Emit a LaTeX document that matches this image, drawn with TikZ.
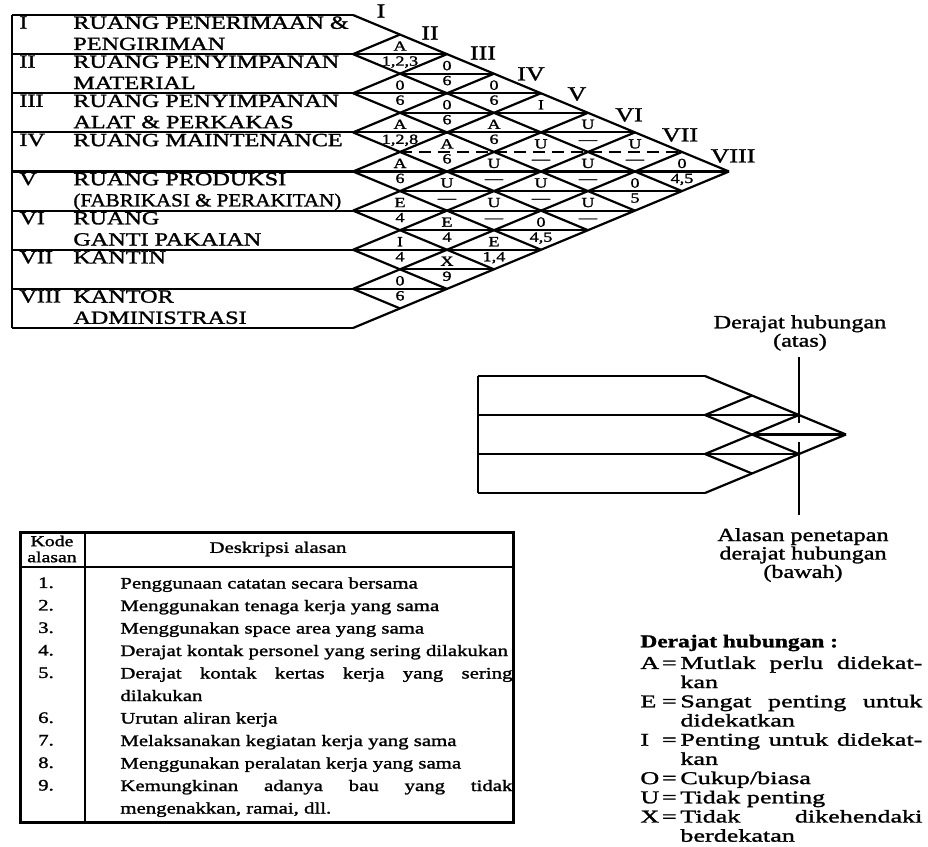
\documentclass[tikz,border=0pt]{standalone}
\usepackage{fontspec}
\usepackage{graphicx}
\setmainfont{Liberation Serif}[FakeStretch=1.3,FakeBold=1.5]
\newfontfamily\widefont{Liberation Serif}[FakeStretch=1.45,FakeBold=1.5]
\usepackage{tikz}
\tikzset{
  grid line/.style={line width=1.1pt},
  mid dash/.style={dash pattern=on 6pt off 3.5pt},
  room num/.style={anchor=north west,inner sep=0pt,font=\fontsize{9.3}{10.6}\selectfont},
  room label/.style={anchor=north west,inner sep=0pt,align=left,font=\fontsize{9.3}{10.6}\selectfont},
  col label/.style={inner sep=0pt,font=\fontsize{10}{10}\selectfont},
  rel code/.style={anchor=base,inner sep=0pt,font=\fontsize{7}{7}\selectfont},
  key label/.style={align=center,inner sep=1pt,font=\fontsize{9.3}{9.2}\selectfont},
  table text/.style={inner sep=0pt,font=\fontsize{8}{11.25}\selectfont}
}
% rows with pointed ends and the diamond grid
% #1 left x, #2 start of the points, #3 top y, #4 rows, #5 row height, #6 dashed level
\newcommand\arcchart[6]{%
  \pgfmathsetmacro\halfh{#5/2}
  \pgfmathtruncatemacro\mmax{2*#4-2}
  \pgfmathtruncatemacro\nlast{#4-1}
  \draw[grid line] (#1,#3) -- (#1,{#3+#4*#5});
  \foreach \k in {0,...,#4}
    \draw[grid line] (#1,{#3+#5*\k}) -- (#2,{#3+#5*\k});
  \foreach \k in {0,...,\nlast}
    \draw[grid line] (#2,{#3+#5*\k}) -- ++({47*(#4-\k)},{\halfh*(#4-\k)});
  \foreach \k in {1,...,#4}
    \draw[grid line] (#2,{#3+#5*\k}) -- ++({47*\k},{-\halfh*\k});
  \foreach \m in {2,...,\mmax}{
    \pgfmathtruncatemacro\dmin{isodd(\m) ? 2 : 1}
    \pgfmathtruncatemacro\dmax{min(\m-1,2*#4-1-\m)}
    \ifnum\m=#6\relax\def\cstyle{mid dash}\else\def\cstyle{solid}\fi
    \draw[grid line,\cstyle] ({#2+47*(\dmin-1)},{#3+\halfh*\m}) -- ({#2+47*(\dmax+1)},{#3+\halfh*\m});
  }
}
\newcommand\legendrow[2]{\hangindent=20pt\hangafter=1\makebox[10.8pt][l]{#1}\makebox[9.2pt][l]{=}#2\par}

\begin{document}
\begin{tikzpicture}[x=0.5pt,y=-0.5pt]
\useasboundingbox (0,0) rectangle (928,847);

% activity relationship chart
\arcchart{12}{353}{15}{8}{39.125}{7}

\node[room num] (n1) at (19,16) {I};
\node[room num] (n2) at (19,55.1) {II};
\node[room num] (n3) at (19,94.25) {III};
\node[room num] (n4) at (19,133.4) {IV};
\node[room num] (n5) at (19,172.5) {V};
\node[room num] (n6) at (19,211.6) {VI};
\node[room num] (n7) at (19,250.75) {VII};
\node[room num] (n8) at (19,289.9) {VIII};

\node[room label] (room1) at (73,16) {RUANG PENERIMAAN \&\\PENGIRIMAN};
\node[room label] (room2) at (73,55.1) {RUANG PENYIMPANAN\\MATERIAL};
\node[room label] (room3) at (73,94.25) {RUANG PENYIMPANAN\\ALAT \& PERKAKAS};
\node[room label] (room4) at (73,133.4) {RUANG MAINTENANCE};
\node[room label] (room5) at (73,172.5) {RUANG PRODUKSI\\\scalebox{0.87}[1]{(FABRIKASI \& PERAKITAN)}};
\node[room label] (room6) at (73,211.6) {RUANG\\GANTI PAKAIAN};
\node[room label] (room7) at (73,250.75) {KANTIN};
\node[room label] (room8) at (73,289.9) {KANTOR\\ADMINISTRASI};

\foreach \r/\x/\y in {I/381/11,II/430/33,III/483/53,IV/531/74,V/577/94,VI/629/115,VII/680/135,VIII/733/156}
  \node[col label] (col\r) at (\x,\y) {\r};

\foreach \i/\j/\lvl/\rsn in {1/2/A/{1,2,3},2/3/0/6,3/4/A/{1,2,8},4/5/A/6,5/6/E/4,6/7/I/4,7/8/0/6,
    1/3/0/6,2/4/0/6,3/5/A/6,4/6/U/\textemdash,5/7/E/4,6/8/X/9,
    1/4/0/6,2/5/A/6,3/6/U/\textemdash,4/7/U/\textemdash,5/8/E/{1,4},
    1/5/I/{},2/6/U/\textemdash,3/7/U/\textemdash,4/8/0/{4,5},
    1/6/U/\textemdash,2/7/U/\textemdash,3/8/U/\textemdash,
    1/7/U/\textemdash,2/8/0/5,
    1/8/0/{4,5}}{
  \node[rel code] (lvl\i\j) at ({353+47*(\j-\i)},{15+19.5625*(\i+\j-1)-3.5}) {\lvl};
  \node[rel code] (rsn\i\j) at ({353+47*(\j-\i)},{15+19.5625*(\i+\j-1)+11.5}) {\rsn};
}

% how to read one diamond
\arcchart{478}{705}{376}{3}{39}{0}
\node[key label] (atas) at (800,333) {Derajat hubungan\\(atas)};
\node[key label] (bawah) at (803,555) {Alasan penetapan\\derajat hubungan\\(bawah)};
\coordinate (atasEnd) at (799,357);
\coordinate (atasTip) at (799,423);
\coordinate (bawahTip) at (799,442);
\coordinate (bawahEnd) at (799,515);
\draw[grid line] (atasEnd) -- (atasTip);
\draw[grid line] (bawahTip) -- (bawahEnd);

% reasons
\draw[line width=1.5pt] (20,532) rectangle (513,822);
\draw[grid line] (20,567) -- (513,567);
\draw[grid line] (85,532) -- (85,822);
\node[table text,align=center,font=\fontsize{7.6}{8}\selectfont] (kodeHead) at (52,549) {Kode\\alasan};
\node[table text] (descHead) at (278,549) {Deskripsi alasan};
\node[table text,anchor=north,align=center] (kodeCol) at (46,577)
  {1.\\2.\\3.\\4.\\5.\\[11.25pt]6.\\7.\\8.\\9.};
\node[table text,anchor=north west,text width=196pt,align=justify] (descCol) at (120,577) {\parindent=0pt
  Penggunaan catatan secara bersama\par
  Menggunakan tenaga kerja yang sama\par
  Menggunakan space area yang sama\par
  Derajat kontak personel yang sering dilakukan\par
  Derajat kontak kertas kerja yang sering\linebreak dilakukan\par
  Urutan aliran kerja\par
  Melaksanakan kegiatan kerja yang sama\par
  Menggunakan peralatan kerja yang sama\par
  Kemungkinan adanya bau yang tidak\linebreak mengenakkan, ramai, dll.};

% degree legend
\node[anchor=west,inner sep=0pt,font=\bfseries\fontsize{9}{10}\selectfont] (lgHead) at (640,643) {Derajat hubungan :};
\node[anchor=north west,inner sep=0pt,text width=141pt,align=justify,font=\widefont\fontsize{9}{9.6}\selectfont] (lgItems) at (640,656) {\parindent=0pt
  \legendrow{A}{Mutlak perlu didekat-\linebreak kan}
  \legendrow{E}{Sangat penting untuk\linebreak didekatkan}
  \legendrow{I}{Penting untuk didekat-\linebreak kan}
  \legendrow{O}{Cukup/biasa}
  \legendrow{U}{Tidak penting}
  \legendrow{X}{Tidak dikehendaki\linebreak berdekatan}};
\end{tikzpicture}
\end{document}
